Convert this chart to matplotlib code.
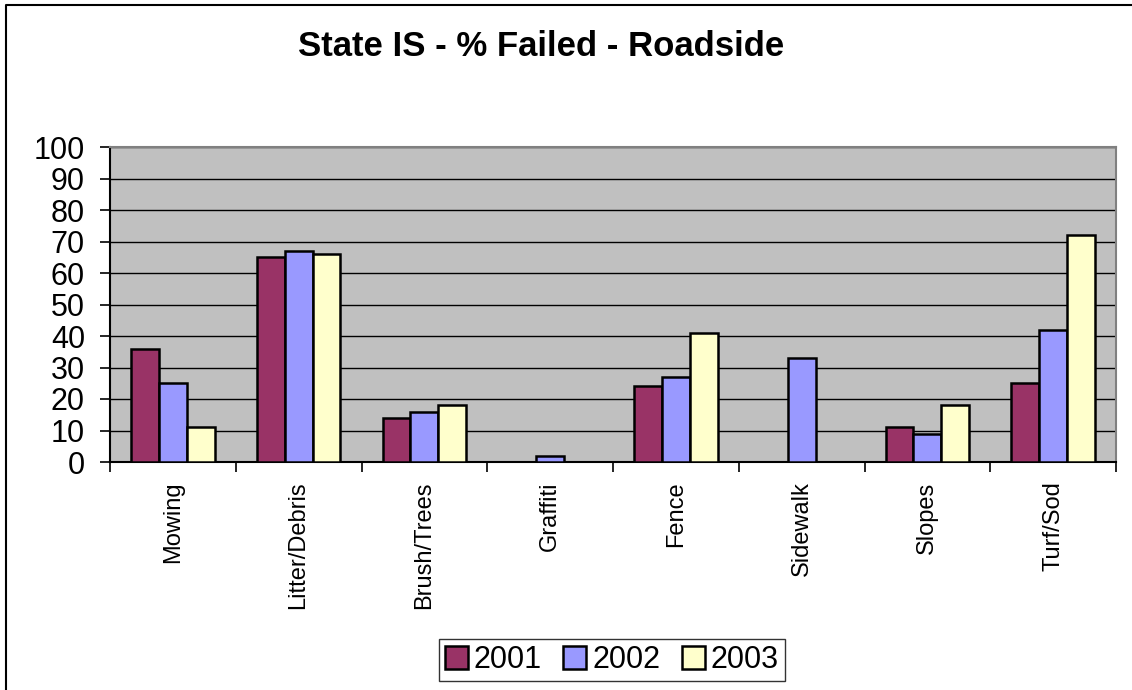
import matplotlib
matplotlib.use("Agg")
import matplotlib.pyplot as plt
import numpy as np
from matplotlib.lines import Line2D

plt.rcParams['font.family'] = ['Liberation Sans', 'DejaVu Sans']

categories = ["Mowing", "Litter/Debris", "Brush/Trees", "Graffiti",
              "Fence", "Sidewalk", "Slopes", "Turf/Sod"]
series_names = ["2001", "2002", "2003"]
values_2001 = [36, 65, 14, 0, 24, 0, 11, 25]
values_2002 = [25, 67, 16, 2, 27, 33, 9, 42]
values_2003 = [11, 66, 18, 0, 41, 0, 18, 72]
y_ticks = [0, 10, 20, 30, 40, 50, 60, 70, 80, 90, 100]
title = "State IS - % Failed - Roadside"

colors = ["#993366", "#9999FF", "#FFFFCC"]
W, H = 1132, 690
fig = plt.figure(figsize=(W / 100, H / 100), dpi=100)

ax = fig.add_axes([110 / W, 1 - 462 / H, (1116 - 110) / W, (462 - 147) / H])
ax.set_facecolor("#C0C0C0")

x = np.arange(len(categories))
bw = 0.222
for i, (vals, c, name) in enumerate(zip([values_2001, values_2002, values_2003],
                                        colors, series_names)):
    ax.bar(x + (i - 1) * bw, vals, width=bw, color=c, edgecolor="black",
           linewidth=1.8, label=name, zorder=3)

ax.set_xlim(-0.5, len(categories) - 0.5)
ax.set_ylim(0, 100)
ax.set_yticks(y_ticks)
ax.set_yticklabels([str(t) for t in y_ticks], fontsize=22)
ax.yaxis.grid(True, color="black", linewidth=1.0, zorder=1)
ax.set_axisbelow(True)

ax.set_xticks(x)
ax.set_xticklabels(categories, rotation=90, fontsize=17)
ax.tick_params(axis="x", length=0, pad=14)
ax.set_xticks(np.arange(len(categories) + 1) - 0.5, minor=True)
ax.tick_params(axis="x", which="minor", length=7, width=1.2, direction="out")
ax.tick_params(axis="y", length=7, width=1.2, direction="out", pad=11)

for s in ["top", "right"]:
    ax.spines[s].set_color("#808080")
    ax.spines[s].set_linewidth(1.5)
for s in ["left", "bottom"]:
    ax.spines[s].set_color("black")
    ax.spines[s].set_linewidth(1.5)

fig.text(541 / W, 1 - 47 / H, title, fontsize=25, fontweight="bold",
         ha="center", va="center")

handles, labels = ax.get_legend_handles_labels()
leg = fig.legend(handles, labels, loc="center",
                 bbox_to_anchor=(612 / W, 1 - 660 / H), ncol=3, fontsize=22,
                 frameon=True, fancybox=False, edgecolor="black",
                 handlelength=0.75, handleheight=0.75, handletextpad=0.2,
                 columnspacing=0.7, borderpad=0.2, borderaxespad=0)
leg.get_frame().set_linewidth(1.0)

# chart border on the top and left edges
fig.add_artist(Line2D([6 / W, 6 / W, 1.0], [0.0, 1 - 5 / H, 1 - 5 / H],
                      color="black", linewidth=1.5, transform=fig.transFigure))

fig.savefig("out.png", dpi=100, facecolor="white")
